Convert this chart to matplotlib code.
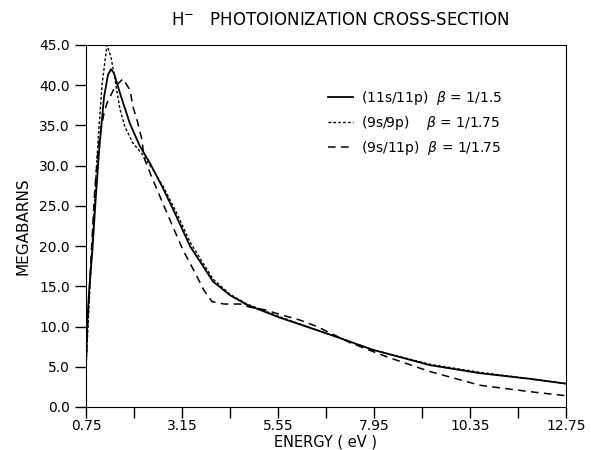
import matplotlib
matplotlib.use("Agg")
import matplotlib.pyplot as plt
from matplotlib.ticker import FixedLocator, FormatStrFormatter

# (11s/11p) beta = 1/1.5  -- solid
e_11s = [0.75, 0.78, 0.83, 0.91, 0.99, 1.08, 1.2, 1.3, 1.375, 1.45, 1.6, 1.85,
         2.1, 2.35, 2.675, 3.0, 3.35, 3.925, 4.35, 4.775, 5.6, 6.85, 7.925,
         9.35, 10.6, 11.85, 12.75]
s_11s = [5.0, 10.4, 14.6, 19.5, 25.7, 32.0, 38.5, 41.3, 42.0, 41.5, 39.0, 35.2,
         32.4, 30.3, 27.2, 23.8, 20.0, 15.6, 13.9, 12.7, 11.1, 9.0, 7.1,
         5.2, 4.2, 3.5, 2.9]

# (9s/9p) beta = 1/1.75  -- dotted
e_9s = [0.75, 0.8, 0.88, 0.97, 1.05, 1.15, 1.275, 1.375, 1.475, 1.6, 1.725,
        1.925, 2.175, 2.425, 2.68, 3.0, 3.35, 3.925, 4.35, 4.775, 5.6, 6.85,
        7.925, 9.35, 10.6, 11.85, 12.75]
s_9s = [5.0, 10.0, 18.0, 26.0, 33.0, 40.0, 45.0, 43.5, 40.7, 37.0, 34.8,
        32.8, 31.3, 29.5, 27.4, 24.3, 20.5, 15.9, 14.0, 12.8, 11.2, 9.0,
        7.1, 5.3, 4.3, 3.5, 2.9]

# (9s/11p) beta = 1/1.75  -- dashed
e_9s11p = [0.75, 0.8, 0.88, 0.97, 1.05, 1.12, 1.2, 1.275, 1.475, 1.675, 1.85,
           1.925, 2.025, 2.15, 2.2, 2.4, 2.775, 3.175, 3.475, 3.7, 3.9, 4.2,
           4.6, 4.85, 5.2, 5.675, 6.1, 6.525, 7.35, 8.025, 8.35, 9.35, 10.6,
           11.85, 12.75]
s_9s11p = [5.0, 11.0, 19.0, 27.0, 32.0, 34.5, 36.5, 37.8, 39.8, 40.8, 39.4,
           37.3, 35.7, 33.2, 31.0, 28.5, 24.1, 19.5, 16.7, 14.5, 13.1, 12.8,
           12.8, 12.4, 12.1, 11.4, 10.8, 10.0, 8.0, 6.7, 6.1, 4.4, 2.7,
           1.9, 1.4]

labels = [r"(11s/11p)  $\beta$ = 1/1.5",
          r"(9s/9p)    $\beta$ = 1/1.75",
          r"(9s/11p)  $\beta$ = 1/1.75"]

x_labeled = [0.75, 3.15, 5.55, 7.95, 10.35, 12.75]
x_minor = [1.95, 4.35, 6.75, 9.15, 11.55]
y_ticks = [0, 5, 10, 15, 20, 25, 30, 35, 40, 45]

fig = plt.figure(figsize=(5.91, 4.5), dpi=100)
ax = fig.add_axes([0.1455, 0.0956, 0.8122, 0.8044])

ax.plot(e_11s, s_11s, color="black", lw=1.3, label=labels[0])
ax.plot(e_9s, s_9s, color="black", lw=1.0, dashes=(2, 1.5), label=labels[1])
ax.plot(e_9s11p, s_9s11p, color="black", lw=1.1, dashes=(5, 3.5), label=labels[2])

ax.set_xlim(0.75, 12.75)
ax.set_ylim(0, 45)
ax.xaxis.set_major_locator(FixedLocator(x_labeled))
ax.xaxis.set_minor_locator(FixedLocator(x_minor))
ax.yaxis.set_major_locator(FixedLocator(y_ticks))
ax.xaxis.set_major_formatter(FormatStrFormatter("%.2f"))
ax.yaxis.set_major_formatter(FormatStrFormatter("%.1f"))
ax.tick_params(which="both", direction="out", length=8, width=1, labelsize=10)
ax.tick_params(axis="x", pad=1)

ax.set_xlabel("ENERGY ( eV )", fontsize=10.5, labelpad=1)
ax.set_ylabel("MEGABARNS", fontsize=11, labelpad=6)
fig.text(0.575, 0.955, r"H$^{-}$   PHOTOIONIZATION CROSS-SECTION",
         ha="center", va="center", fontsize=12)

ax.legend(loc="upper left", bbox_to_anchor=(0.4775, 0.914), frameon=False,
          fontsize=10, handlelength=1.8, handletextpad=0.6, labelspacing=0.5)

fig.savefig("out.png", dpi=100)
